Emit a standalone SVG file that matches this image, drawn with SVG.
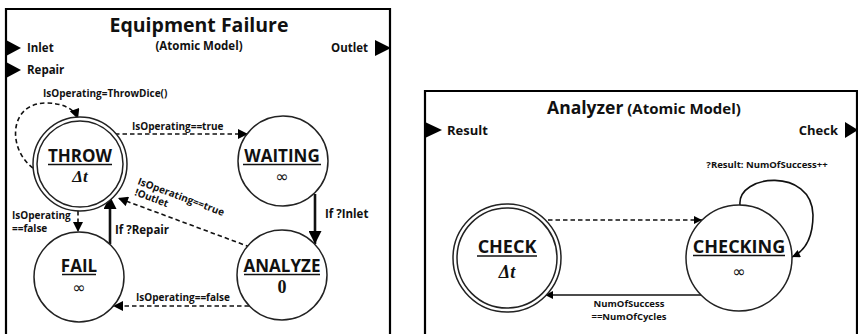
<svg xmlns="http://www.w3.org/2000/svg" width="858" height="334" viewBox="0 0 858 334">
  <style>
    .frame { fill: none; stroke: #000; stroke-width: 2.2; }
    .state { fill: #fff; stroke: #222; stroke-width: 1.5; }
    .t { font-family: "Open Sans", "Noto Sans", sans-serif; font-weight: 700; fill: #111; }
    .name { font-size: 17px; text-anchor: middle; }
    .name2 { font-size: 18px; text-anchor: middle; }
    .ul { stroke: #111; stroke-width: 1.6; }
    .math { font-family: "Liberation Serif", "DejaVu Serif", serif; font-style: italic; font-weight: 700; fill: #111; text-anchor: middle; }
    .inf { font-family: "DejaVu Sans", sans-serif; font-size: 16px; fill: #111; text-anchor: middle; }
    .lbl { font-size: 10px; }
    .port { font-size: 11.5px; }
    .dash { fill: none; stroke: #111; stroke-width: 1.6; stroke-dasharray: 4.5 3; }
    .solid { fill: none; stroke: #111; stroke-width: 1.6; }
    .thick { fill: none; stroke: #111; stroke-width: 2.6; }
  </style>
  <defs>
    <marker id="ah" viewBox="0 0 10 10" refX="10" refY="5" markerWidth="11" markerHeight="10" markerUnits="userSpaceOnUse" orient="auto">
      <path d="M0,0 L10,5 L0,10 z" fill="#000"/>
    </marker>
    <marker id="ahBig" viewBox="0 0 10 10" refX="10" refY="5" markerWidth="13" markerHeight="13" markerUnits="userSpaceOnUse" orient="auto">
      <path d="M0,0 L10,5 L0,10 z" fill="#000"/>
    </marker>
    <marker id="ahSm" viewBox="0 0 10 10" refX="10" refY="5" markerWidth="10" markerHeight="8" markerUnits="userSpaceOnUse" orient="auto">
      <path d="M0,0 L10,5 L0,10 z" fill="#000"/>
    </marker>
  </defs>

  <!-- Equipment Failure atomic model -->
  <g id="equipment-failure">
    <path class="frame" d="M6 340 V9 H390 V340"/>
    <text class="t" x="199" y="32" font-size="19.5" text-anchor="middle">Equipment Failure</text>
    <text class="t" x="199" y="50" font-size="11.5" text-anchor="middle">(Atomic Model)</text>
    <g id="port-inlet">
      <polygon points="6,40 21,48 6,56" fill="#000"/>
      <text class="t port" x="27" y="52">Inlet</text>
    </g>
    <g id="port-repair">
      <polygon points="6,62 21,70 6,78" fill="#000"/>
      <text class="t port" x="27" y="74">Repair</text>
    </g>
    <g id="port-outlet">
      <polygon points="375,40 391,48 375,56" fill="#000"/>
      <text class="t port" x="331" y="52">Outlet</text>
    </g>
  </g>

  <!-- Analyzer atomic model -->
  <g id="analyzer">
    <path class="frame" d="M425 340 V91 H857 V340"/>
    <text class="t" x="644" y="114" text-anchor="middle"><tspan font-size="17.5">Analyzer</tspan><tspan font-size="15"> (Atomic Model)</tspan></text>
    <g id="port-result">
      <polygon points="425,122 442,130 425,138" fill="#000"/>
      <text class="t" x="447" y="135" font-size="13">Result</text>
    </g>
    <g id="port-check">
      <polygon points="845,122 858,130 845,138" fill="#000"/>
      <text class="t" x="838" y="135" font-size="13" text-anchor="end">Check</text>
    </g>
  </g>

  <!-- transitions -->
  <g id="connectors">
    <path class="dash" d="M33 168 C8 150, 8 104, 45 103 C62 103, 74 108, 78 119" marker-end="url(#ah)"/>
    <text class="t lbl" x="43" y="97">IsOperating=ThrowDice()</text>

    <path class="dash" d="M115 134 H248" marker-end="url(#ah)"/>
    <text class="t lbl" x="132" y="130">IsOperating==true</text>

    <path class="dash" d="M78 211 V232" marker-end="url(#ah)"/>
    <text class="t lbl" x="12" y="219">IsOperating</text>
    <text class="t lbl" x="12" y="232">==false</text>

    <path class="thick" d="M110 244 V196" marker-end="url(#ahBig)"/>
    <text class="t port" x="115" y="234">If ?Repair</text>

    <path class="thick" d="M315 194 V244" marker-end="url(#ahBig)"/>
    <text class="t port" x="325" y="218">If ?Inlet</text>

    <path class="dash" d="M250 247 L118 198" marker-end="url(#ah)"/>
    <text class="t lbl" transform="translate(137 184) rotate(20.5)">IsOperating==true</text>
    <text class="t lbl" transform="translate(134 195) rotate(20.5)">!Outlet</text>

    <path class="dash" d="M249 306 H113" marker-end="url(#ah)"/>
    <text class="t lbl" x="136" y="301">IsOperating==false</text>

    <path class="dash" d="M548 220 H702" marker-end="url(#ahSm)"/>

    <path class="solid" d="M701 295 H545" marker-end="url(#ahSm)"/>
    <text class="t" x="629" y="307" font-size="9.5" text-anchor="middle">NumOfSuccess</text>
    <text class="t" x="629" y="320" font-size="9.5" text-anchor="middle">==NumOfCycles</text>

    <path class="solid" stroke-width="1.3" d="M740 205 C737 174, 812 167, 813 215 C813 238, 805 251, 792 257" marker-end="url(#ahSm)"/>
    <text class="t" x="767" y="168" font-size="9.5" text-anchor="middle">?Result: NumOfSuccess++</text>
  </g>

  <g id="state-throw">
    <circle class="state" cx="80" cy="164" r="47"/>
    <circle class="state" cx="80" cy="164" r="43" fill="none"/>
    <text class="t name" x="80" y="162">THROW</text>
    <line class="ul" x1="48" y1="164.5" x2="112" y2="164.5"/>
    <text class="math" x="80" y="182" font-size="17">Δt</text>
  </g>

  <g id="state-waiting">
    <circle class="state" cx="283" cy="161" r="45"/>
    <text class="t name" x="282" y="162">WAITING</text>
    <line class="ul" x1="243" y1="164.5" x2="321" y2="164.5"/>
    <text class="inf" x="282" y="182">∞</text>
  </g>

  <g id="state-fail">
    <circle class="state" cx="79" cy="277" r="45"/>
    <text class="t name" x="79" y="272">FAIL</text>
    <line class="ul" x1="62" y1="274.5" x2="96" y2="274.5"/>
    <text class="inf" x="79" y="293">∞</text>
  </g>

  <g id="state-analyze">
    <circle class="state" cx="282" cy="275" r="45"/>
    <text class="t name" x="282" y="272">ANALYZE</text>
    <line class="ul" x1="244" y1="274.5" x2="320" y2="274.5"/>
    <text x="282" y="293" font-family="Liberation Serif, serif" font-weight="700" font-size="18" text-anchor="middle" fill="#111">0</text>
  </g>

  <g id="state-check">
    <circle class="state" cx="507" cy="258" r="54"/>
    <circle class="state" cx="507" cy="258" r="50" fill="none"/>
    <text class="t name2" x="507" y="253">CHECK</text>
    <line class="ul" x1="477" y1="256" x2="537" y2="256"/>
    <text class="math" x="507" y="278" font-size="18">Δt</text>
  </g>

  <g id="state-checking">
    <circle class="state" cx="739" cy="258" r="53"/>
    <text class="t name2" x="739" y="253">CHECKING</text>
    <line class="ul" x1="693" y1="255.5" x2="785" y2="255.5"/>
    <text class="inf" x="739" y="277">∞</text>
  </g>
</svg>
